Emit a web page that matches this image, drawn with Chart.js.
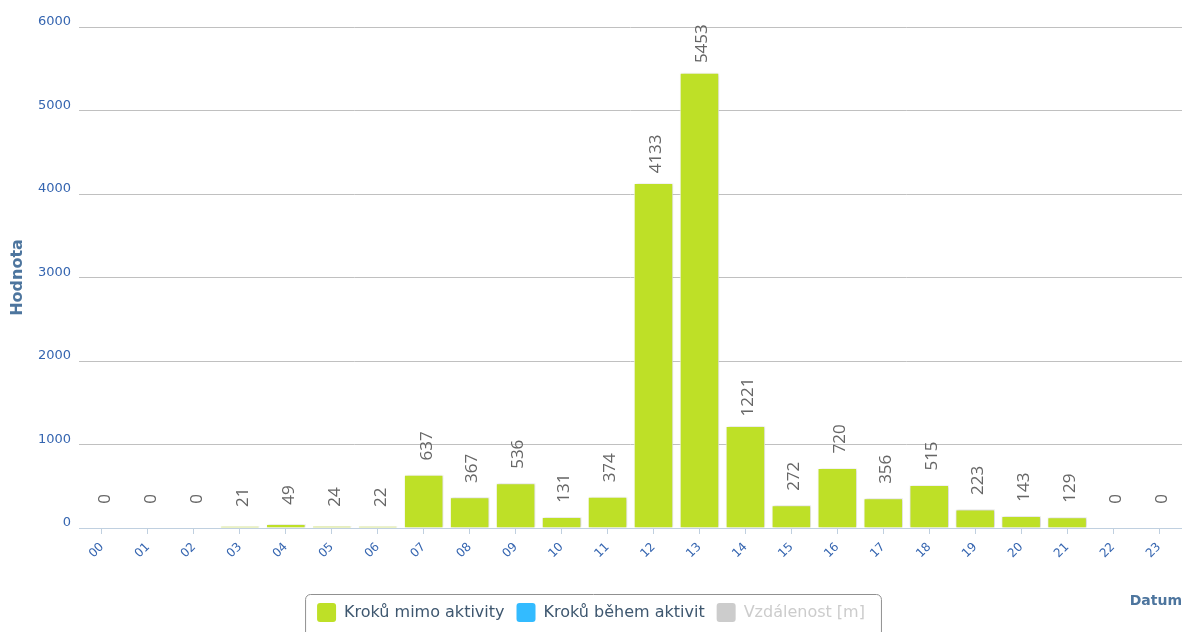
<!DOCTYPE html>
<html>
<head>
<meta charset="utf-8">
<script src="https://cdn.jsdelivr.net/npm/chart.js@4/dist/chart.umd.min.js"></script>
<style>
  html, body { margin: 0; padding: 0; background: #fff; }
  #wrap { width: 1182px; height: 632px; }
</style>
</head>
<body>
<div id="wrap"><canvas id="chart"></canvas></div>
<script>
// hodiny dne
var hours = ['00','01','02','03','04','05','06','07','08','09','10','11',
             '12','13','14','15','16','17','18','19','20','21','22','23'];
// Kroků mimo aktivity
var stepsOutside = [0,0,0,21,49,24,22,637,367,536,131,374,4133,5453,1221,272,720,356,515,223,143,129,0,0];
// Kroků během aktivit
var stepsDuring = [0,0,0,0,0,0,0,0,0,0,0,0,0,0,0,0,0,0,0,0,0,0,0,0];
// Vzdálenost [m] (skrytá serie)
var distance = [];

var yMax = 6000;
var yStep = 1000;

var labelColor = '#3565B0';
var titleColor = '#4D759E';

// stín pod sloupci
var barShadow = {
  id: 'barShadow',
  beforeDatasetDraw: function(chart, args){
    var ctx = chart.ctx;
    ctx.save();
    ctx.shadowColor = 'rgba(0,0,0,0.22)';
    ctx.shadowBlur = 3;
    ctx.shadowOffsetX = 1;
    ctx.shadowOffsetY = 0;
  },
  afterDatasetDraw: function(chart, args){
    chart.ctx.restore();
  }
};

// popisky hodnot nad sloupci
var valueLabels = {
  id: 'valueLabels',
  afterDatasetsDraw: function(chart){
    var ctx = chart.ctx;
    var meta = chart.getDatasetMeta(0);
    meta.data.forEach(function(bar, i){
      ctx.save();
      ctx.translate(bar.x + 3, bar.y - 29);
      ctx.rotate(-Math.PI / 2);
      ctx.font = '17px "Open Sans"';
      ctx.fillStyle = '#666666';
      ctx.textAlign = 'center';
      ctx.textBaseline = 'middle';
      ctx.fillText(String(stepsOutside[i]), 0, 0);
      ctx.restore();
    });
  }
};

// rámeček legendy + nadpis osy X
var extras = {
  id: 'extras',
  afterDraw: function(chart){
    var ctx = chart.ctx;
    var lg = chart.legend;
    var boxes = lg.legendHitBoxes;
    if (boxes && boxes.length) {
      var first = boxes[0], last = boxes[boxes.length - 1];
      var left = first.left - 12;
      var right = last.left + last.width + 16;
      ctx.save();
      ctx.strokeStyle = '#909090';
      ctx.lineWidth = 1;
      ctx.beginPath();
      ctx.roundRect(left + 0.5, 594.5, right - left, 60, 5);
      ctx.stroke();
      ctx.restore();
    }
    ctx.save();
    ctx.font = 'bold 14px "DejaVu Sans"';
    ctx.fillStyle = titleColor;
    ctx.textAlign = 'right';
    ctx.textBaseline = 'middle';
    ctx.fillText('Datum', 1182, 601);
    ctx.restore();
  }
};

var ctx = document.getElementById('chart');
var chart = new Chart(ctx, {
  type: 'bar',
  data: {
    labels: hours,
    datasets: [{
      label: 'Kroků mimo aktivity',
      data: stepsOutside,
      backgroundColor: '#BEE027',
      borderColor: '#FFFFFF',
      borderWidth: 1,
      stack: 's'
    }, {
      label: 'Kroků během aktivit',
      data: stepsDuring,
      backgroundColor: '#33BBFF',
      borderColor: '#FFFFFF',
      borderWidth: 0,
      stack: 's'
    }, {
      label: 'Vzdálenost [m]',
      data: distance,
      backgroundColor: '#CCCCCC',
      hidden: true,
      stack: 's'
    }]
  },
  options: {
    responsive: true,
    maintainAspectRatio: false,
    animation: false,
    datasets: { bar: { categoryPercentage: 1, barPercentage: 0.86 } },
    layout: { padding: { top: 27, right: 0, left: 0, bottom: 0 } },
    scales: {
      x: {
        stacked: true,
        offset: true,
        grid: { display: true, drawOnChartArea: false, drawTicks: true, tickLength: 6, color: '#C0D0E0', offset: false },
        border: { display: true, color: '#C0D0E0', width: 1 },
        ticks: {
          color: labelColor,
          font: { family: 'DejaVu Sans', size: 12 },
          minRotation: 45, maxRotation: 45,
          padding: 6,
          autoSkip: false
        },
        afterFit: function(scale){ scale.height = 63; }
      },
      y: {
        stacked: true,
        min: 0,
        max: yMax,
        grid: { color: '#C0C0C0', drawTicks: false, lineWidth: 1 },
        border: { display: false },
        ticks: {
          stepSize: yStep,
          color: labelColor,
          font: { family: 'DejaVu Sans', size: 13 },
          padding: 8,
          labelOffset: -5,
          callback: function(v){ return String(v); }
        },
        title: {
          display: true,
          text: 'Hodnota',
          color: titleColor,
          font: { family: 'DejaVu Sans', size: 16, weight: 'bold' },
          padding: { top: 8, bottom: 0 }
        },
        afterFit: function(scale){ scale.width = 79; }
      }
    },
    plugins: {
      tooltip: { enabled: false },
      legend: {
        position: 'bottom',
        onClick: null,
        labels: {
          boxWidth: 19,
          boxHeight: 19,
          padding: 12,
          useBorderRadius: true,
          borderRadius: 3,
          font: { family: 'DejaVu Sans', size: 16 },
          color: '#3E576F',
          generateLabels: function(chart){
            var items = Chart.defaults.plugins.legend.labels.generateLabels(chart);
            items.forEach(function(it){
              it.lineWidth = 0;
              it.strokeStyle = 'rgba(0,0,0,0)';
              if (it.hidden) {
                it.hidden = false;
                it.fillStyle = '#CCCCCC';
                it.fontColor = '#CCCCCC';
              } else {
                it.fontColor = '#3E576F';
              }
            });
            return items;
          }
        }
      }
    }
  },
  plugins: [barShadow, valueLabels, extras]
});
</script>
</body>
</html>
